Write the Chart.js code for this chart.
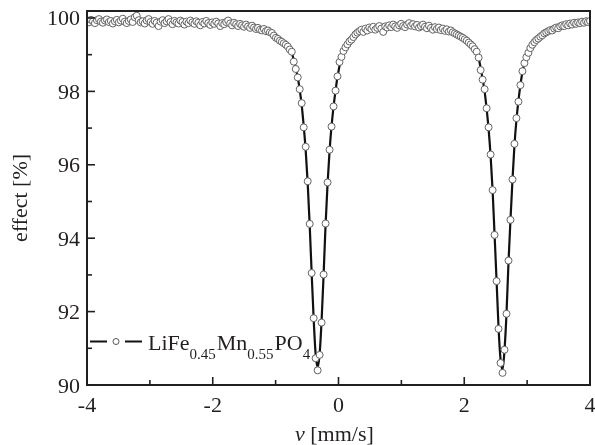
<!DOCTYPE html>
<html>
<head>
<meta charset="utf-8">
<title>LiFe0.45Mn0.55PO4 Mössbauer spectrum</title>
<script src="https://cdn.jsdelivr.net/npm/chart.js@4/dist/chart.umd.min.js"></script>
<style>
    html, body { margin: 0; padding: 0; background: #fff; }
    canvas { display: block; }
</style>
</head>
<body>
<canvas id="spec" width="595" height="445"></canvas>
<script>
// Mössbauer spectrum, values

// channel velocities [mm/s]
const velocity = [
    -4.000,-3.968,-3.937,-3.905,-3.874,-3.842,-3.810,-3.779,-3.747,-3.715,
    -3.684,-3.652,-3.621,-3.589,-3.557,-3.526,-3.494,-3.462,-3.431,-3.399,
    -3.368,-3.336,-3.304,-3.273,-3.241,-3.209,-3.178,-3.146,-3.115,-3.083,
    -3.051,-3.020,-2.988,-2.957,-2.925,-2.893,-2.862,-2.830,-2.798,-2.767,
    -2.735,-2.704,-2.672,-2.640,-2.609,-2.577,-2.545,-2.514,-2.482,-2.451,
    -2.419,-2.387,-2.356,-2.324,-2.292,-2.261,-2.229,-2.198,-2.166,-2.134,
    -2.103,-2.071,-2.040,-2.008,-1.976,-1.945,-1.913,-1.881,-1.850,-1.818,
    -1.787,-1.755,-1.723,-1.692,-1.660,-1.628,-1.597,-1.565,-1.534,-1.502,
    -1.470,-1.439,-1.407,-1.375,-1.344,-1.312,-1.281,-1.249,-1.217,-1.186,
    -1.154,-1.123,-1.091,-1.059,-1.028,-0.996,-0.964,-0.933,-0.901,-0.870,
    -0.838,-0.806,-0.775,-0.743,-0.711,-0.680,-0.648,-0.617,-0.585,-0.553,
    -0.522,-0.490,-0.458,-0.427,-0.395,-0.364,-0.332,-0.300,-0.269,-0.237,
    -0.206,-0.174,-0.142,-0.111,-0.079,-0.047,-0.016,0.016,0.047,0.079,
    0.111,0.142,0.174,0.206,0.237,0.269,0.300,0.332,0.364,0.395,
    0.427,0.458,0.490,0.522,0.553,0.585,0.617,0.648,0.680,0.711,
    0.743,0.775,0.806,0.838,0.870,0.901,0.933,0.964,0.996,1.028,
    1.059,1.091,1.123,1.154,1.186,1.217,1.249,1.281,1.312,1.344,
    1.375,1.407,1.439,1.470,1.502,1.534,1.565,1.597,1.628,1.660,
    1.692,1.723,1.755,1.787,1.818,1.850,1.881,1.913,1.945,1.976,
    2.008,2.040,2.071,2.103,2.134,2.166,2.198,2.229,2.261,2.292,
    2.324,2.356,2.387,2.419,2.451,2.482,2.514,2.545,2.577,2.609,
    2.640,2.672,2.704,2.735,2.767,2.798,2.830,2.862,2.893,2.925,
    2.957,2.988,3.020,3.051,3.083,3.115,3.146,3.178,3.209,3.241,
    3.273,3.304,3.336,3.368,3.399,3.431,3.462,3.494,3.526,3.557,
    3.589,3.621,3.652,3.684,3.715,3.747,3.779,3.810,3.842,3.874,
    3.905,3.937,3.968,4.000
];

// measured effect [%]
const effect = [
    99.93,99.88,99.95,99.91,99.86,99.94,99.97,99.90,99.87,99.93,
    99.96,99.89,99.92,99.85,99.91,99.95,99.88,99.93,99.98,99.90,
    99.86,99.92,99.96,99.89,100.02,100.06,99.94,99.88,99.91,99.85,
    99.93,99.97,99.89,99.84,99.92,99.87,99.78,99.90,99.94,99.86,
    99.91,99.97,99.89,99.83,99.92,99.88,99.85,99.93,99.89,99.82,
    99.90,99.86,99.93,99.88,99.84,99.91,99.87,99.80,99.89,99.85,
    99.92,99.86,99.81,99.88,99.84,99.90,99.85,99.78,99.86,99.83,
    99.89,99.93,99.85,99.80,99.87,99.83,99.78,99.84,99.80,99.76,
    99.82,99.77,99.73,99.79,99.74,99.70,99.73,99.68,99.66,99.70,
    99.64,99.66,99.61,99.59,99.52,99.46,99.43,99.38,99.35,99.31,
    99.27,99.22,99.14,99.08,98.81,98.61,98.38,98.06,97.68,97.02,
    96.49,95.55,94.39,93.05,91.82,90.73,90.40,90.82,91.70,93.01,
    94.40,95.52,96.41,97.04,97.59,98.02,98.41,98.80,98.94,99.10,
    99.20,99.28,99.36,99.41,99.48,99.55,99.60,99.64,99.68,99.62,
    99.71,99.66,99.74,99.70,99.76,99.68,99.73,99.78,99.71,99.62,
    99.77,99.74,99.80,99.75,99.82,99.77,99.73,99.80,99.84,99.78,
    99.75,99.82,99.86,99.79,99.83,99.77,99.81,99.74,99.78,99.82,
    99.76,99.72,99.79,99.73,99.68,99.75,99.70,99.74,99.67,99.71,
    99.65,99.69,99.63,99.66,99.61,99.58,99.55,99.52,99.49,99.46,
    99.42,99.38,99.33,99.28,99.23,99.15,99.08,98.92,98.58,98.32,
    98.06,97.54,97.02,96.28,95.31,94.09,92.83,91.53,90.60,90.33,
    90.96,91.94,93.39,94.50,95.60,96.57,97.27,97.72,98.17,98.55,
    98.77,98.93,99.05,99.18,99.27,99.34,99.40,99.44,99.49,99.53,
    99.58,99.61,99.64,99.67,99.66,99.71,99.74,99.72,99.77,99.80,
    99.78,99.83,99.80,99.85,99.82,99.87,99.84,99.88,99.86,99.90,
    99.87,99.91,99.89,99.92
];

// fitted curve (black line)
const fitVelocity = [
    -4.0, -3.5, -3.0, -2.5, -2.0, -1.6, -1.3, -1.1, -0.996, -0.901,
    -0.838, -0.775, -0.743, -0.711, -0.680, -0.648, -0.617, -0.585, -0.553, -0.522,
    -0.490, -0.458, -0.427, -0.395, -0.364, -0.332, -0.300, -0.269, -0.237, -0.206,
    -0.174, -0.142, -0.111, -0.079, -0.047, -0.016, 0.047, 0.11, 0.2, 0.35,
    0.6, 1.0, 1.3, 1.6, 1.8, 2.008, 2.040, 2.071, 2.103, 2.134,
    2.166, 2.198, 2.229, 2.261, 2.292, 2.324, 2.356, 2.387, 2.419, 2.451,
    2.482, 2.514, 2.545, 2.577, 2.609, 2.640, 2.672, 2.704, 2.735, 2.767,
    2.798, 2.830, 2.862, 2.893, 2.925, 2.957, 2.988, 3.020, 3.1, 3.25,
    3.45, 3.7, 4.0
];
const fitEffect = [
    99.92, 99.91, 99.90, 99.88, 99.86, 99.82, 99.74, 99.64, 99.50, 99.37,
    99.27, 99.14, 99.04, 98.86, 98.64, 98.38, 98.05, 97.62, 97.05, 96.40,
    95.50, 94.35, 93.05, 91.80, 90.85, 90.48, 90.85, 91.75, 93.00, 94.35,
    95.48, 96.38, 97.05, 97.58, 98.02, 98.40, 98.92, 99.22, 99.46, 99.64,
    99.74, 99.79, 99.79, 99.73, 99.65, 99.43, 99.38, 99.33, 99.28, 99.22,
    99.14, 99.04, 98.90, 98.64, 98.34, 98.00, 97.52, 96.98, 96.25, 95.30,
    94.10, 92.85, 91.58, 90.70, 90.42, 90.95, 91.95, 93.35, 94.50, 95.58,
    96.52, 97.22, 97.75, 98.17, 98.52, 98.77, 98.93, 99.06, 99.28, 99.50,
    99.66, 99.78, 99.90
];

const xTicks = [-4, -2, 0, 2, 4];
const xMinor = [-3, -1, 1, 3];
const yTicks = [90, 92, 94, 96, 98, 100];
const yMinor = [91, 93, 95, 97, 99];

const SERIF = '"Liberation Serif", "DejaVu Serif", serif';
const INK = "#231f20";

function seg(ctx, x1, y1, x2, y2) {
    ctx.beginPath(); ctx.moveTo(x1, y1); ctx.lineTo(x2, y2); ctx.stroke();
}

// frame, inward ticks, labels, titles and legend
const decor = {
    id: "decor",
    afterDatasetsDraw(chart) {
        const ctx = chart.ctx, a = chart.chartArea;
        const xs = chart.scales.x, ys = chart.scales.y;
        ctx.save();
        ctx.strokeStyle = INK;
        ctx.lineWidth = 2;
        ctx.strokeRect(a.left, a.top, a.right - a.left, a.bottom - a.top);

        ctx.lineWidth = 1.6;
        xs.ticks.forEach(function (t) {
            const px = xs.getPixelForValue(t.value);
            seg(ctx, px, a.bottom, px, a.bottom - 8);
        });
        xMinor.forEach(function (v) {
            const px = xs.getPixelForValue(v);
            seg(ctx, px, a.bottom, px, a.bottom - 5);
        });
        ys.ticks.forEach(function (t) {
            const py = ys.getPixelForValue(t.value);
            seg(ctx, a.left, py, a.left + 8, py);
        });
        yMinor.forEach(function (v) {
            const py = ys.getPixelForValue(v);
            seg(ctx, a.left, py, a.left + 5, py);
        });
        ctx.restore();
    },
    afterDraw(chart) {
        const ctx = chart.ctx, a = chart.chartArea;
        const xs = chart.scales.x, ys = chart.scales.y;
        ctx.save();
        ctx.fillStyle = INK;
        ctx.font = "22px " + SERIF;
        ctx.textBaseline = "alphabetic";

        // tick labels
        ctx.textAlign = "right";
        ys.ticks.forEach(function (t) {
            ctx.fillText(String(t.value), a.left - 7, ys.getPixelForValue(t.value) + 7.5);
        });
        ctx.textAlign = "center";
        xs.ticks.forEach(function (t) {
            ctx.fillText(String(t.value), xs.getPixelForValue(t.value), a.bottom + 26.5);
        });

        // axis titles
        ctx.save();
        ctx.translate(27, (a.top + a.bottom) / 2);
        ctx.rotate(-Math.PI / 2);
        ctx.fillText("effect [%]", 0, 0);
        ctx.restore();

        ctx.textAlign = "left";
        ctx.font = "italic 22px " + SERIF;
        ctx.fillText("v", 295, 441);
        let w = ctx.measureText("v").width;
        ctx.font = "22px " + SERIF;
        ctx.fillText(" [mm/s]", 295 + w, 441);

        // legend
        const ly = 341.5;
        ctx.strokeStyle = "#111";
        ctx.lineWidth = 2;
        seg(ctx, 90, ly, 107, ly);
        seg(ctx, 125, ly, 142, ly);
        ctx.beginPath();
        ctx.arc(116, ly, 3, 0, Math.PI * 2);
        ctx.fillStyle = "#fff";
        ctx.fill();
        ctx.lineWidth = 1;
        ctx.strokeStyle = "#555";
        ctx.stroke();

        ctx.fillStyle = INK;
        const parts = [["LiFe", 0], ["0.45", 1], ["Mn", 0], ["0.55", 1], ["PO", 0], ["4", 1]];
        let tx = 148;
        parts.forEach(function (p) {
            ctx.font = (p[1] ? "15px " : "22px ") + SERIF;
            ctx.fillText(p[0], tx, p[1] ? 359 : 350);
            tx += ctx.measureText(p[0]).width + (p[1] ? 1 : 0);
        });
        ctx.restore();
    }
};

const points = velocity.map(function (v, i) { return { x: v, y: effect[i] }; });
const fit = fitVelocity.map(function (v, i) { return { x: v, y: fitEffect[i] }; });

new Chart(document.getElementById("spec"), {
    type: "scatter",
    data: {
        datasets: [
            {
                label: "LiFe0.45Mn0.55PO4",
                data: points,
                showLine: false,
                pointRadius: 3.5,
                pointBorderWidth: 1,
                pointBorderColor: "#636363",
                pointBackgroundColor: "#fff",
                order: 0
            },
            {
                label: "fit",
                data: fit,
                showLine: true,
                pointRadius: 0,
                borderColor: "#111",
                borderWidth: 2.2,
                cubicInterpolationMode: "monotone",
                order: 1
            }
        ]
    },
    options: {
        responsive: false,
        animation: false,
        devicePixelRatio: 1,
        layout: { padding: { top: 11, right: 2, left: 0, bottom: 0 } },
        plugins: { legend: { display: false }, tooltip: { enabled: false } },
        scales: {
            x: {
                type: "linear", min: -4, max: 4,
                afterBuildTicks: function (s) { s.ticks = xTicks.map(function (v) { return { value: v }; }); },
                afterFit: function (s) { s.height = 60; },
                grid: { display: false, drawTicks: false },
                border: { display: false },
                ticks: { display: false }
            },
            y: {
                type: "linear", min: 90, max: 100.19,
                afterBuildTicks: function (s) { s.ticks = yTicks.map(function (v) { return { value: v }; }); },
                afterFit: function (s) { s.width = 87; },
                grid: { display: false, drawTicks: false },
                border: { display: false },
                ticks: { display: false }
            }
        }
    },
    plugins: [decor]
});
</script>
</body>
</html>
